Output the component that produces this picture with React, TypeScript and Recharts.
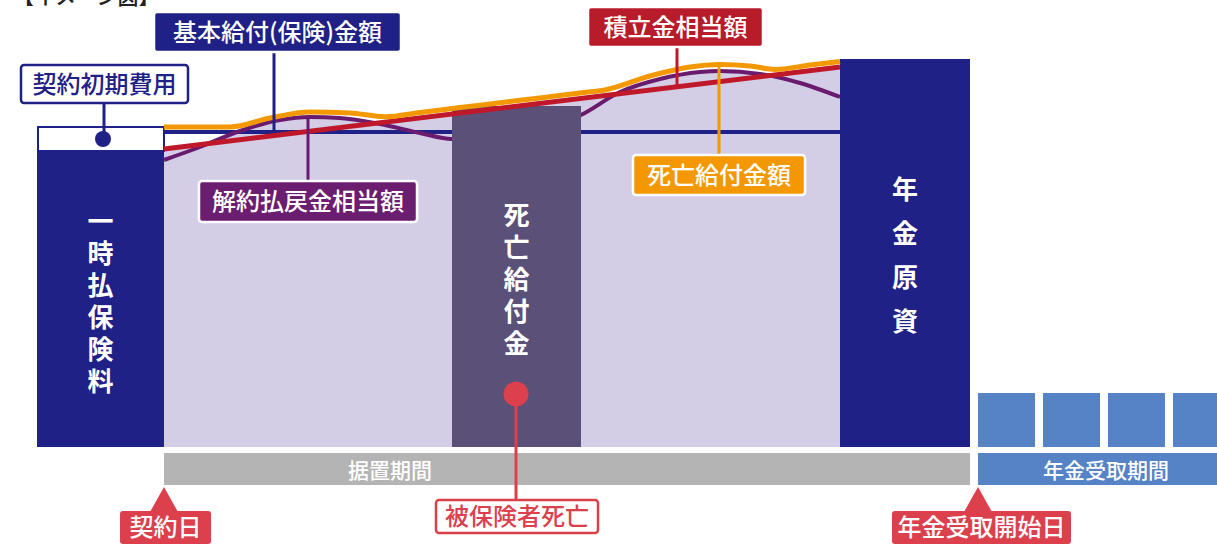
import {
  ComposedChart,
  XAxis,
  YAxis,
  Line,
  Area,
  ReferenceArea,
  ReferenceLine,
  ReferenceDot,
} from "recharts";

// x = time along the contract, y = amount (0 = base of the blocks)
const surrenderTimes = [164, 200, 240, 280, 310, 340, 380, 420, 452, 516, 581, 620, 660, 700, 720, 760, 800, 840];
const surrenderValue = [287, 300, 316, 327, 330, 329, 323, 314, 308, 312, 332, 355, 368, 375, 376, 373, 364, 350];

const reserveTimes = [164, 840];
const reserveValue = [298, 380];

const deathTimes = [164, 230, 270, 310, 350, 385, 420, 460, 500, 540, 580, 605, 650, 690, 720, 750, 775, 810, 840];
const deathValue = [320, 320, 329, 335, 334, 330.3, 334.6, 339.4, 344.3, 349.1, 354, 357, 371, 380, 382.5, 381, 377.6, 381.9, 385.5];

const basicTimes = [164, 840];
const basicValue = [315, 315];

const premiumAmount = 320;
const initialCost = 24;
const deathPayout = 341;
const pensionFund = 388;
const annuityStarts = [978, 1043, 1108, 1173];
const annuityAmount = 54;

const NAVY = "#1f2186";
const LAVENDER = "#d3cde6";
const FONT = '"Noto Sans CJK JP", "Noto Sans", sans-serif';

const toRows = (xs: number[], vs: number[]) => xs.map((x, i) => ({ x, v: vs[i] }));

const surrenderRows = toRows(surrenderTimes, surrenderValue);
const reserveRows = toRows(reserveTimes, reserveValue);
const deathRows = toRows(deathTimes, deathValue);
const basicRows = toRows(basicTimes, basicValue);

function vertical(chars: string, gap: number) {
  return (p: any) => {
    const vb = p.viewBox;
    const cx = vb.x + vb.width / 2;
    const cy = vb.y + vb.height / 2;
    const start = cy - ((chars.length - 1) * gap) / 2;
    return (
      <text
        x={cx}
        textAnchor="middle"
        dominantBaseline="central"
        fill="#fff"
        fontSize={26}
        fontWeight={700}
        fontFamily={FONT}
      >
        {chars.split("").map((c, i) => (
          <tspan key={i} x={cx} y={start + i * gap}>
            {c}
          </tspan>
        ))}
      </text>
    );
  };
}

const textShape =
  (value: string, color: string, size: number, anchor: string = "middle", baseline: string = "central") =>
  (p: any) =>
    (
      <text
        x={p.cx}
        y={p.cy}
        textAnchor={anchor as any}
        dominantBaseline={baseline as any}
        fill={color}
        fontSize={size}
        fontWeight={500}
        fontFamily={FONT}
      >
        {value}
      </text>
    );

const triangle = (p: any) => (
  <path d={`M${p.cx},${p.cy} l14,25 l-28,0 z`} fill="#dc404d" />
);

function labelBox(
  x1: number,
  x2: number,
  y1: number,
  y2: number,
  text: string,
  fill: string,
  stroke: string,
  color: string,
  z: number
) {
  return (
    <ReferenceArea
      x1={x1}
      x2={x2}
      y1={y1}
      y2={y2}
      fill={fill}
      fillOpacity={1}
      stroke={stroke}
      strokeWidth={2.5}
      radius={3}
      zIndex={z}
      label={{
        value: text,
        position: "center",
        fill: color,
        fontSize: 24,
        fontWeight: 500,
        fontFamily: FONT,
      }}
    />
  );
}

export default function App() {
  return (
    <div style={{ position: "absolute", left: 0, top: 0, width: 1217, height: 544, fontFamily: FONT }}>
      <ComposedChart width={1217} height={544} margin={{ top: 0, right: 0, left: 0, bottom: 0 }}>
        <XAxis type="number" dataKey="x" domain={[0, 1217]} hide allowDataOverflow />
        <YAxis type="number" dataKey="v" domain={[-97, 447]} hide allowDataOverflow />

        {/* lavender value area */}
        <Area data={reserveRows} dataKey="v" type="linear" baseValue={0} stroke="none" fill={LAVENDER} fillOpacity={1} dot={false} activeDot={false} isAnimationActive={false} zIndex={10} />
        <Area data={surrenderRows} dataKey="v" type="monotone" baseValue={0} stroke="none" fill={LAVENDER} fillOpacity={1} dot={false} activeDot={false} isAnimationActive={false} zIndex={11} />

        {/* blocks */}
        <ReferenceArea x1={37} x2={164} y1={0} y2={premiumAmount - initialCost} fill={NAVY} fillOpacity={1} stroke="none" zIndex={12} label={{ content: vertical("一時払保険料", 32) }} />
        <ReferenceArea x1={38} x2={164} y1={premiumAmount - initialCost} y2={premiumAmount} fill="#fff" fillOpacity={1} stroke={NAVY} strokeWidth={2} zIndex={12} />
        <ReferenceArea x1={840} x2={970} y1={0} y2={pensionFund} fill={NAVY} fillOpacity={1} stroke="none" zIndex={12} label={{ content: vertical("年金原資", 44) }} />
        {annuityStarts.map((s) => (
          <ReferenceArea key={s} x1={s} x2={s + 57} y1={0} y2={annuityAmount} fill="#5583c5" fillOpacity={1} stroke="none" ifOverflow="hidden" zIndex={12} />
        ))}

        <Line data={basicRows} dataKey="v" type="linear" stroke={NAVY} strokeWidth={4} dot={false} activeDot={false} isAnimationActive={false} zIndex={20} />
        <Line data={surrenderRows} dataKey="v" type="monotone" stroke="#6a1b6e" strokeWidth={4} dot={false} activeDot={false} isAnimationActive={false} zIndex={30} />

        <ReferenceArea x1={452} x2={581} y1={0} y2={deathPayout} fill="#5b5078" fillOpacity={1} stroke="none" zIndex={40} label={{ content: vertical("死亡給付金", 32) }} />

        <Line data={reserveRows} dataKey="v" type="linear" stroke="#c0182b" strokeWidth={5} dot={false} activeDot={false} isAnimationActive={false} zIndex={50} />
        <Line data={deathRows} dataKey="v" type="monotone" stroke="#f39800" strokeWidth={5} dot={false} activeDot={false} isAnimationActive={false} zIndex={60} />

        {/* period bars */}
        <ReferenceArea x1={164} x2={970} y1={-6} y2={-38} fill="#b4b4b4" fillOpacity={1} stroke="none" zIndex={12} />
        <ReferenceArea x1={978} x2={1217} y1={-6} y2={-38} fill="#5583c5" fillOpacity={1} stroke="none" zIndex={12} />
        <ReferenceDot x={390} y={-22} r={1} shape={textShape("据置期間", "#fff", 21)} zIndex={70} />
        <ReferenceDot x={1106} y={-22} r={1} shape={textShape("年金受取期間", "#fff", 21)} zIndex={70} />

        {/* leader lines */}
        <ReferenceLine segment={[{ x: 104, y: 344 }, { x: 104, y: 308 }]} stroke={NAVY} strokeWidth={3} zIndex={80} />
        <ReferenceLine segment={[{ x: 274, y: 395 }, { x: 274, y: 316 }]} stroke={NAVY} strokeWidth={3} zIndex={80} />
        <ReferenceLine segment={[{ x: 308, y: 330 }, { x: 308, y: 266 }]} stroke="#6a1b6e" strokeWidth={3} zIndex={80} />
        <ReferenceLine segment={[{ x: 677, y: 400 }, { x: 677, y: 360 }]} stroke="#c0182b" strokeWidth={3} zIndex={80} />
        <ReferenceLine segment={[{ x: 719, y: 382 }, { x: 719, y: 292 }]} stroke="#f39800" strokeWidth={3} zIndex={80} />
        <ReferenceLine segment={[{ x: 516, y: 53 }, { x: 516, y: -53 }]} stroke="#dc404d" strokeWidth={3} zIndex={80} />

        <ReferenceDot x={103} y={308} r={8} fill={NAVY} stroke="none" zIndex={85} />
        <ReferenceDot x={516} y={53} r={12.5} fill="#dc404d" stroke="none" zIndex={85} />

        <ReferenceDot x={164} y={-40} r={1} shape={triangle} zIndex={85} />
        <ReferenceDot x={978} y={-40} r={1} shape={triangle} zIndex={85} />

        {/* label boxes */}
        {labelBox(154, 401, 435, 395, "基本給付(保険)金額", NAVY, "#fff", "#fff", 90)}
        {labelBox(21, 188, 382, 344, "契約初期費用", "#fff", NAVY, NAVY, 90)}
        {labelBox(588, 763, 440, 400, "積立金相当額", "#b81c2b", "#fff", "#fff", 90)}
        {labelBox(633, 805, 292, 252, "死亡給付金額", "#f39800", "#fff", "#fff", 90)}
        {labelBox(199, 417, 266, 225, "解約払戻金相当額", "#6b1d6f", "#fff", "#fff", 90)}
        {labelBox(436, 598, -53, -86, "被保険者死亡", "#fff", "#dc404d", "#dc404d", 90)}
        {labelBox(120, 211, -64, -97, "契約日", "#dc404d", "none", "#fff", 90)}
        {labelBox(892, 1071, -64, -97, "年金受取開始日", "#dc404d", "none", "#fff", 90)}

        <ReferenceDot x={13} y={443} r={1} shape={textShape("【イメージ図】", "#222", 21, "start", "auto")} zIndex={90} />
      </ComposedChart>
    </div>
  );
}
